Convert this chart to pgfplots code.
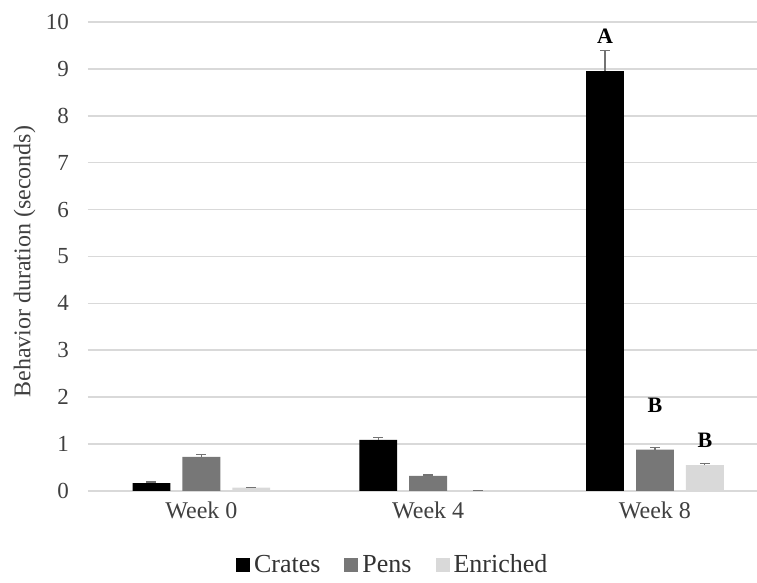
\documentclass[border=0pt]{standalone}
\usepackage{fontspec}
\setmainfont{Liberation Serif}
\usepackage{pgfplots}
\pgfplotsset{compat=1.18}
\definecolor{pens}{HTML}{777777}
\definecolor{enr}{HTML}{D9D9D9}
\definecolor{grid}{HTML}{D9D9D9}
\begin{document}
\begin{tikzpicture}
\useasboundingbox (-44pt,-46pt) rectangle (334.5pt,245.5pt);
\begin{axis}[
  at={(0,0)}, anchor=south west,
  scale only axis, width=334.5pt, height=234.5pt,
  xmin=-0.5, xmax=2.45, ymin=0, ymax=10,
  xtick={0,1,2}, xticklabels={Week 0,Week 4,Week 8},
  ytick={0,1,...,10},
  xmajorgrids=false, ymajorgrids=true,
  y grid style={grid, line width=0.8pt},
  axis x line*=bottom, axis y line*=left,
  x axis line style={draw=grid, line width=0.8pt, -},
  y axis line style={draw=none},
  xtick style={draw=none}, ytick style={draw=none},
  major tick length=0pt,
  xticklabel style={font=\fontsize{12}{13}\selectfont, text=black!75, yshift=-2pt},
  yticklabel style={font=\fontsize{11.5}{13}\selectfont, text=black!75, xshift=-6pt},
  /pgf/number format/assume math mode=true,
  ylabel={Behavior duration (seconds)},
  ylabel style={font=\fontsize{12}{13}\selectfont, text=black!75, at={(axis description cs:-0.068,0.489)}},
  ybar, bar width=0.167,
  error bars/error bar style={draw=black!55, line width=0.6pt},
  error bars/error mark options={rotate=90, mark size=2.5pt, line width=0.6pt, draw=black!55},
  legend style={at={(0.457,-0.158)}, anchor=center, draw=none, legend columns=3,
    font=\fontsize{13}{14}\selectfont, text=black!80,
    /tikz/every even column/.append style={column sep=10pt}},
  legend image code/.code={\fill[#1] (0pt,-3.5pt) rectangle (7pt,3.5pt);},
  clip=false,
]
\addplot[fill=black, draw=none, bar shift=-0.22,
  error bars/.cd, y dir=plus, y explicit]
  coordinates {(0,0.17) +- (0,0.02) (1,1.09) +- (0,0.05) (2,8.95) +- (0,0.45)};
\addlegendentry{Crates}
\addplot[fill=pens, draw=none, bar shift=0,
  error bars/.cd, y dir=plus, y explicit]
  coordinates {(0,0.73) +- (0,0.05) (1,0.32) +- (0,0.02) (2,0.88) +- (0,0.05)};
\addlegendentry{Pens}
\addplot[fill=enr, draw=none, bar shift=0.22,
  error bars/.cd, y dir=plus, y explicit]
  coordinates {(0,0.07) +- (0,0.01) (1,0.01) +- (0,0.005) (2,0.55) +- (0,0.03)};
\addlegendentry{Enriched}
\node[font=\bfseries\fontsize{11}{12}\selectfont] at (axis cs:1.78,9.7) {A};
\node[font=\bfseries\fontsize{11}{12}\selectfont] at (axis cs:2,1.83) {B};
\node[font=\bfseries\fontsize{11}{12}\selectfont] at (axis cs:2.22,1.07) {B};
\end{axis}
\end{tikzpicture}
\end{document}
